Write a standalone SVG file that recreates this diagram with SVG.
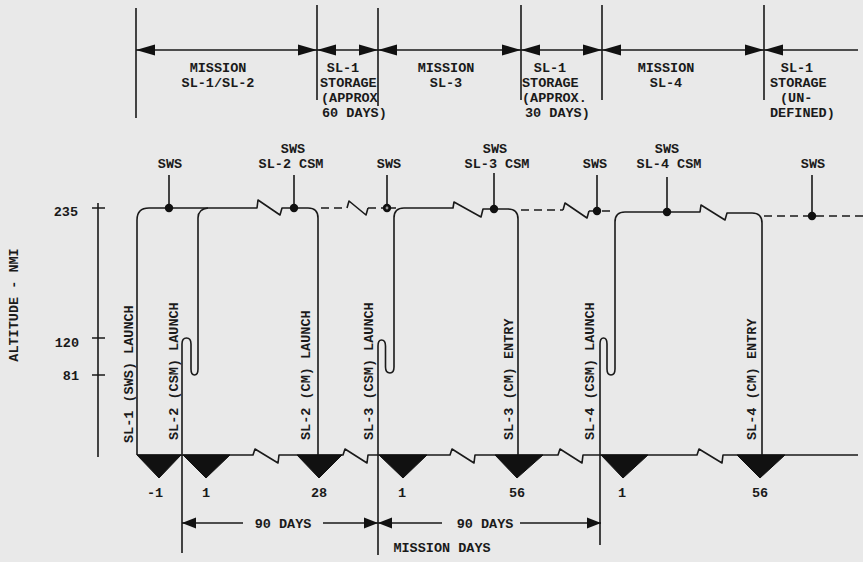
<svg xmlns="http://www.w3.org/2000/svg" xmlns:xlink="http://www.w3.org/1999/xlink" width="863" height="562" viewBox="0 0 863 562">
<style>
text{font-family:"Liberation Mono","Courier New",monospace;font-size:13.5px;font-weight:bold;fill:#1a1a1a}
.m{text-anchor:middle}
.e{text-anchor:end}
.ln{fill:none;stroke:#1a1a1a;stroke-width:1.6;stroke-linejoin:round}
.ds{fill:none;stroke:#1a1a1a;stroke-width:1.6;stroke-dasharray:8 5}
.tri{fill:#111;stroke:#111;stroke-width:1}
.dot{fill:#111}
</style>
<defs>
<path id="ahl" d="M0,0 L19,-5.5 L19,5.5 Z" fill="#111"/>
<path id="ahr" d="M0,0 L-19,-5.5 L-19,5.5 Z" fill="#111"/>
<path id="ahl2" d="M0,0 L14,-5.5 L14,5.5 Z" fill="#111"/>
<path id="ahr2" d="M0,0 L-14,-5.5 L-14,5.5 Z" fill="#111"/>
</defs>
<rect width="863" height="562" fill="#e9e9e9"/>

<g id="phase-timeline">
<path class="ln" d="M136,8 V118 M317,5 V100 M378,8 V106 M521,5 V100 M602,5 V100 M764,5 V100 M136,50 H858"/>
<use xlink:href="#ahl" x="136" y="50"/>
<use xlink:href="#ahr" x="317" y="50"/>
<use xlink:href="#ahl" x="317" y="50"/>
<use xlink:href="#ahr" x="378" y="50"/>
<use xlink:href="#ahl" x="378" y="50"/>
<use xlink:href="#ahr" x="521" y="50"/>
<use xlink:href="#ahl" x="521" y="50"/>
<use xlink:href="#ahr" x="602" y="50"/>
<use xlink:href="#ahl" x="602" y="50"/>
<use xlink:href="#ahr" x="764" y="50"/>
<use xlink:href="#ahl" x="764" y="50"/>
</g>
<g id="phase-mission-sl1-sl2">
<text class="m" x="218" y="72">MISSION</text>
<text class="m" x="218" y="87">SL-1/SL-2</text>
</g>
<g id="phase-storage-1">
<text class="m" x="343" y="72">SL-1</text>
<text x="320" y="87">STORAGE</text>
<text x="321" y="102">(APPROX</text>
<text x="322" y="117">60 DAYS)</text>
</g>
<g id="phase-mission-sl3">
<text class="m" x="446" y="72">MISSION</text>
<text class="m" x="446" y="87">SL-3</text>
</g>
<g id="phase-storage-2">
<text class="m" x="550" y="72">SL-1</text>
<text x="522" y="87">STORAGE</text>
<text x="522" y="102">(APPROX.</text>
<text x="525" y="117">30 DAYS)</text>
</g>
<g id="phase-mission-sl4">
<text class="m" x="666" y="72">MISSION</text>
<text class="m" x="666" y="87">SL-4</text>
</g>
<g id="phase-storage-3">
<text class="m" x="797" y="72">SL-1</text>
<text x="770" y="87">STORAGE</text>
<text x="780" y="102">(UN-</text>
<text x="770" y="117">DEFINED)</text>
</g>

<g id="altitude-axis">
<path class="ln" d="M98,203 V457 M92,208 H105 M92,338 H105 M92,375 H105"/>
<text class="e" x="78" y="216">235</text>
<text class="e" x="79" y="347">120</text>
<text class="e" x="79" y="380">81</text>
<text class="m" transform="translate(18,305) rotate(-90)">ALTITUDE - NMI</text>
</g>

<g id="connectors">
<path class="ln" d="M137,455 V220 Q137,208 149,208 H257 L258,200 L280,215 L282,208 H308 Q318,208 318,218 V455"/>
<path class="ln" d="M182,553 V344 Q182,338 186.5,338 Q191,338 191,344 V369 Q191,375 194.5,375 Q198,375 198,369 V218 Q198,209 208,208"/>
<path class="ds" d="M321,208 H347 M368,208 H387"/>
<path class="ln" d="M347,208 L349,201 L366,215 L368,208 M387,208 H396"/>
<path class="ln" d="M378,555 V346 Q378,340 381.5,340 Q385.5,340 385.5,346 V367 Q385.5,373 390,373 Q394,373 394,367 V218 Q394,208 404,208 H453 L454,202 L481,217 L483,209 H508 Q518,209 518,219 V455"/>
<path class="ds" d="M521,210 H563 M589,211 H615"/>
<path class="ln" d="M563,210 L565,203 L587,218 L589,211"/>
<path class="ln" d="M600,545 V344 Q600,338 603.5,338 Q607,338 607,344 V369 Q607,375 611,375 Q615,375 615,369 V222 Q615,212 625,212 H700 L701,205 L725,220 L727,213 H752 Q762,213 762,223 V455"/>
<path class="ds" d="M764,216 H863"/>
<path class="ln" d="M137,455 H253 L255,449 L278,463 L279,455 H343 L345,449 L367,463 L368,455 H450 L452,449 L474,463 L475,455 H558 L560,449 L582,463 L583,455 H697 L699,449 L722,463 L723,455 H858"/>
<path class="ln" d="M169,175 V208 M294,175 V208 M387,175 V208 M494,173 V209 M597,175 V211 M667,177 V212 M812,175 V216"/>
<path class="ln" d="M182,523 H243 M323,523 H378 M378,523 H442 M520,523 H601"/>
<use xlink:href="#ahl2" x="182" y="523"/>
<use xlink:href="#ahr2" x="378" y="523"/>
<use xlink:href="#ahl2" x="378" y="523"/>
<use xlink:href="#ahr2" x="601" y="523"/>
</g>

<g id="docking-points">
<circle class="dot" cx="169" cy="208" r="4.2"/>
<circle class="dot" cx="294" cy="208" r="4.2"/>
<circle class="dot" cx="387" cy="208" r="4.2"/>
<circle cx="387" cy="208" r="1.4" fill="#999"/>
<circle class="dot" cx="494" cy="209" r="4.2"/>
<circle class="dot" cx="597" cy="211" r="4.2"/>
<circle class="dot" cx="667" cy="212" r="4.2"/>
<circle class="dot" cx="812" cy="216" r="4.2"/>
<text class="m" x="170" y="168">SWS</text>
<text class="m" x="293" y="153">SWS</text>
<text class="m" x="291" y="168">SL-2 CSM</text>
<text class="m" x="389" y="168">SWS</text>
<text class="m" x="495" y="153">SWS</text>
<text class="m" x="497" y="168">SL-3 CSM</text>
<text class="m" x="595" y="168">SWS</text>
<text class="m" x="667" y="153">SWS</text>
<text class="m" x="669" y="168">SL-4 CSM</text>
<text class="m" x="813" y="168">SWS</text>
</g>

<g id="events">
<polygon class="tri" points="137,455 181,455 159,478"/>
<polygon class="tri" points="183,455 230,455 206,478"/>
<polygon class="tri" points="297,455 342,455 319,478"/>
<polygon class="tri" points="379,455 427,455 403,478"/>
<polygon class="tri" points="495,455 543,455 517,478"/>
<polygon class="tri" points="601,455 648,455 623,478"/>
<polygon class="tri" points="737,455 785,455 760,478"/>
<text transform="translate(133,443) rotate(-90)">SL-1 (SWS) LAUNCH</text>
<text transform="translate(178,440) rotate(-90)">SL-2 (CSM) LAUNCH</text>
<text transform="translate(310,440) rotate(-90)">SL-2 (CM) LAUNCH</text>
<text transform="translate(373,440) rotate(-90)">SL-3 (CSM) LAUNCH</text>
<text transform="translate(513,440) rotate(-90)">SL-3 (CM) ENTRY</text>
<text transform="translate(594,440) rotate(-90)">SL-4 (CSM) LAUNCH</text>
<text transform="translate(756,440) rotate(-90)">SL-4 (CM) ENTRY</text>
</g>

<g id="mission-days">
<text class="m" x="155" y="497">-1</text>
<text class="m" x="206" y="497">1</text>
<text class="m" x="319" y="497">28</text>
<text class="m" x="402" y="497">1</text>
<text class="m" x="517" y="497">56</text>
<text class="m" x="622" y="497">1</text>
<text class="m" x="760" y="497">56</text>
<text class="m" x="283" y="528">90 DAYS</text>
<text class="m" x="485" y="528">90 DAYS</text>
<text class="m" x="442" y="552">MISSION DAYS</text>
</g>
</svg>
